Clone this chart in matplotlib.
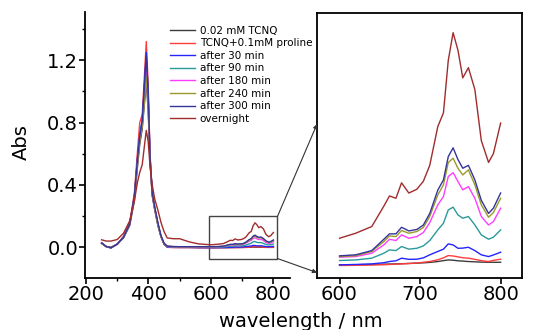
import numpy as np
import matplotlib
matplotlib.use("Agg")
import matplotlib.pyplot as plt
from matplotlib.patches import Rectangle, ConnectionPatch
from matplotlib.ticker import MultipleLocator

plt.rcParams['font.family'] = ['DejaVu Sans']

# wavelength grid (nm): main TCNQ band region + near-IR region shown in the inset
wl_main = [250, 265, 280, 300, 320, 340, 355, 365, 372, 380, 387, 393, 399, 405,
           412, 420, 430, 440, 450, 460, 480, 500, 530, 560]
wl_ir = [600, 620, 640, 655, 662, 670, 677, 686, 696, 704, 712, 722, 729, 735,
         741, 747, 753, 760, 768, 776, 785, 791, 800]
wavelength = wl_main + wl_ir

labels = ['0.02 mM TCNQ', 'TCNQ+0.1mM proline', 'after 30 min', 'after 90 min',
          'after 180 min', 'after 240 min', 'after 300 min', 'overnight']
colors = ['#3c3c3c', '#ff3c3c', '#2424ff', '#2a9a9a', '#ff3cff', '#9a9a2a',
          '#34349a', '#a02c2c']

abs_tcnq = [0.025, 0.005, 0.0, 0.02, 0.06, 0.14, 0.30, 0.52, 0.66, 0.76, 0.92, 1.06,
            0.88, 0.55, 0.33, 0.24, 0.14, 0.07, 0.02, 0.005, 0.002, 0.0, 0.0, -0.001,
            -0.0023, -0.0022, -0.002, -0.0018, -0.0017, -0.0016, -0.0015, -0.0013,
            -0.0011, -0.0009, -0.0006, 0.0, 0.0006, 0.0011, 0.0009, 0.0005, 0.0003,
            0.0, -0.0002, -0.0004, -0.0005, -0.0005, -0.0005]
abs_proline = [0.03, 0.005, -0.005, 0.02, 0.07, 0.16, 0.35, 0.62, 0.80, 0.85, 1.10, 1.32,
               1.05, 0.60, 0.35, 0.25, 0.15, 0.07, 0.02, 0.0, -0.002, -0.002, -0.002, -0.003,
               -0.0027, -0.0026, -0.0024, -0.0022, -0.002, -0.0018, -0.0016, -0.0014,
               -0.001, -0.0005, 0.0, 0.0012, 0.0025, 0.0041, 0.0038, 0.0032, 0.0026,
               0.0023, 0.0015, 0.0006, 0.0, 0.0008, 0.0016]
abs_30 = [0.028, 0.004, -0.004, 0.02, 0.065, 0.15, 0.33, 0.58, 0.72, 0.82, 1.05, 1.25,
          1.00, 0.58, 0.34, 0.25, 0.15, 0.07, 0.02, 0.002, 0.0, -0.001, -0.001, -0.002,
          -0.0023, -0.002, -0.0016, -0.0008, 0.0, 0.0005, 0.0023, 0.0015, 0.0016,
          0.0025, 0.0046, 0.0069, 0.0085, 0.0121, 0.0114, 0.0091, 0.0092, 0.0098,
          0.0075, 0.0046, 0.0034, 0.0045, 0.0064]
abs_90 = [0.027, 0.004, -0.003, 0.02, 0.065, 0.15, 0.32, 0.56, 0.70, 0.80, 0.99, 1.17,
          0.95, 0.57, 0.34, 0.25, 0.15, 0.07, 0.022, 0.004, 0.001, 0.0, 0.0, 0.0,
          0.0007, 0.0011, 0.0023, 0.0057, 0.008, 0.0075, 0.0103, 0.0085, 0.0091,
          0.0107, 0.0144, 0.0217, 0.0263, 0.0354, 0.0373, 0.032, 0.0297, 0.0309,
          0.0251, 0.0183, 0.0153, 0.0167, 0.0217]
abs_180 = [0.026, 0.004, -0.002, 0.02, 0.065, 0.15, 0.32, 0.55, 0.69, 0.79, 0.96, 1.12,
           0.92, 0.56, 0.34, 0.25, 0.15, 0.07, 0.024, 0.006, 0.003, 0.002, 0.002, 0.002,
           0.003, 0.0034, 0.0057, 0.0114, 0.0153, 0.0144, 0.0183, 0.016, 0.0171,
           0.0199, 0.0267, 0.0389, 0.0446, 0.0583, 0.061, 0.0549, 0.0492, 0.0514,
           0.0434, 0.0309, 0.0251, 0.0274, 0.0366]
abs_240 = [0.026, 0.004, -0.002, 0.02, 0.065, 0.15, 0.32, 0.55, 0.68, 0.78, 0.94, 1.10,
           0.91, 0.56, 0.34, 0.25, 0.15, 0.07, 0.025, 0.007, 0.004, 0.003, 0.003, 0.003,
           0.0034, 0.004, 0.0069, 0.0137, 0.0176, 0.0171, 0.0213, 0.0194, 0.0206,
           0.0233, 0.0309, 0.0457, 0.0526, 0.0679, 0.0709, 0.064, 0.0594, 0.0629,
           0.0526, 0.0389, 0.0304, 0.0336, 0.0434]
abs_300 = [0.027, 0.004, -0.002, 0.02, 0.065, 0.15, 0.33, 0.57, 0.71, 0.81, 1.03, 1.23,
           0.98, 0.58, 0.35, 0.26, 0.16, 0.075, 0.026, 0.008, 0.005, 0.004, 0.004, 0.004,
           0.0039, 0.0046, 0.0075, 0.0153, 0.019, 0.019, 0.0235, 0.021, 0.022,
           0.025, 0.033, 0.049, 0.056, 0.072, 0.078, 0.070, 0.064, 0.066,
           0.056, 0.042, 0.033, 0.0366, 0.047]
abs_overnight = [0.048, 0.04, 0.04, 0.05, 0.09, 0.17, 0.30, 0.42, 0.48, 0.53, 0.65, 0.75,
                 0.68, 0.52, 0.40, 0.31, 0.24, 0.16, 0.10, 0.06, 0.055, 0.055, 0.035, 0.022,
                 0.016, 0.0194, 0.024, 0.038, 0.045, 0.0434, 0.054, 0.047, 0.0496,
                 0.055, 0.066, 0.0926, 0.102, 0.138, 0.157, 0.145, 0.126, 0.133,
                 0.118, 0.083, 0.068, 0.074, 0.095]

series = [abs_tcnq, abs_proline, abs_30, abs_90, abs_180, abs_240, abs_300, abs_overnight]

fig = plt.figure(figsize=(5.35, 3.3), dpi=100)
ax = fig.add_axes([0.159, 0.158, 0.383, 0.806])
inset = fig.add_axes([0.5925, 0.158, 0.383, 0.803])

x = np.array(wavelength)
ir = x >= 600
for vals, c, lab in zip(series, colors, labels):
    y = np.array(vals)
    ax.plot(x, y, color=c, lw=1.0, label=lab)
    inset.plot(x[ir], y[ir], color=c, lw=1.0)

# main axes styling
ax.set_xlim(197, 853)
ax.set_ylim(-0.196, 1.51)
for side in ['top', 'right']:
    ax.spines[side].set_visible(False)
for side in ['left', 'bottom']:
    ax.spines[side].set_linewidth(1.3)
ax.xaxis.set_major_locator(MultipleLocator(200))
ax.xaxis.set_minor_locator(MultipleLocator(100))
ax.yaxis.set_major_locator(MultipleLocator(0.4))
ax.yaxis.set_minor_locator(MultipleLocator(0.2))
ax.tick_params(which='major', direction='out', length=4, width=1.2, labelsize=14, pad=1)
ax.tick_params(which='minor', direction='out', length=2.5, width=1.0)

leg = ax.legend(loc='upper left', bbox_to_anchor=(0.395, 0.964), frameon=False,
                fontsize=7.5, handlelength=2.4, handletextpad=0.45,
                labelspacing=0.25, borderaxespad=0)

# zoom box on main axes
ax.add_patch(Rectangle((595, -0.072), 218, 0.27, fill=False, ec='#444444', lw=1.0))

# inset styling
inset.set_xlim(572, 826.4)
inset.set_ylim(-0.0112, 0.1706)
for s in inset.spines.values():
    s.set_linewidth(1.3)
inset.set_xticks([600, 700, 800])
inset.set_yticks([])
inset.tick_params(axis='x', direction='out', length=4, width=1.2, labelsize=14, pad=1)

# arrows linking the box to the inset
for xyA, xyB in [((813, 0.198), (0.0, 0.58)), ((813, -0.072), (0.0, 0.02))]:
    con = ConnectionPatch(xyA=xyA, coordsA=ax.transData, xyB=xyB, coordsB=inset.transAxes,
                          arrowstyle='-|>', color='#333333', lw=0.8, mutation_scale=6)
    fig.add_artist(con)

fig.text(21 / 535, 1 - 142 / 330, 'Abs', fontsize=14, rotation=90,
         ha='center', va='center')
fig.text(0.563, 0.009, 'wavelength / nm', fontsize=14, ha='center', va='baseline')

fig.savefig('out.png', dpi=100)
